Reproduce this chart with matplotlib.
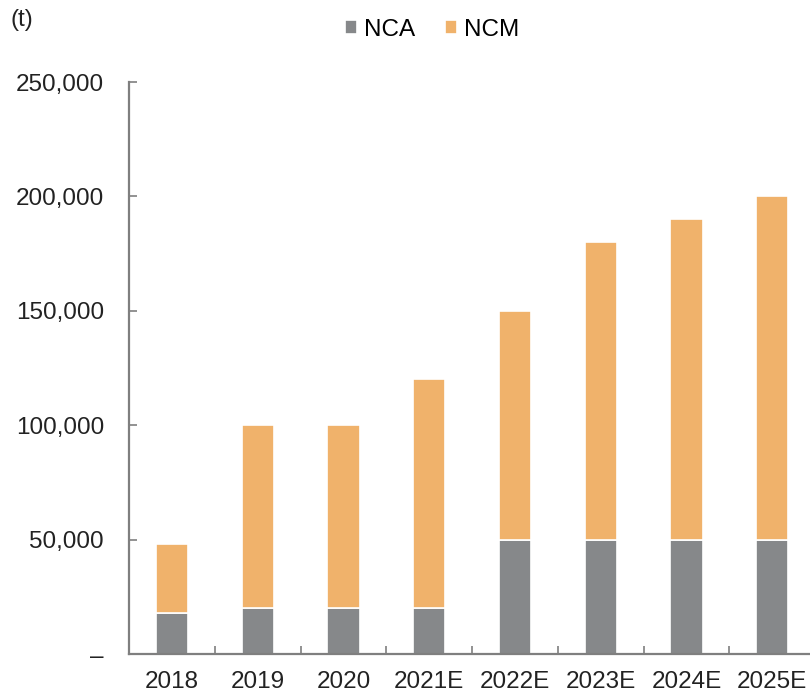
import matplotlib
matplotlib.use("Agg")
import matplotlib.pyplot as plt
from matplotlib.ticker import FuncFormatter, FixedLocator

plt.rcParams['font.family'] = ['Liberation Sans', 'DejaVu Sans']

years = ['2018', '2019', '2020', '2021E', '2022E', '2023E', '2024E', '2025E']
nca = [18000, 20000, 20000, 20000, 50000, 50000, 50000, 50000]
ncm = [30000, 80000, 80000, 100000, 100000, 130000, 140000, 150000]

gray = '#86888a'
orange = '#f0b26b'
axis_col = '#7f7f7f'
fs = 17.5

fig = plt.figure(figsize=(8.1, 6.92), dpi=100)
ax = fig.add_axes([129 / 810, 1 - 654 / 692, (810 - 129) / 810, (654 - 82) / 692])

x = list(range(len(years)))
w = 0.375
ax.bar(x, nca, width=w, color=gray, edgecolor='white', linewidth=1.2, label='NCA')
ax.bar(x, ncm, width=w, bottom=nca, color=orange, edgecolor='white', linewidth=1.2, label='NCM')

ax.set_xlim(-0.5, 7.44)
ax.set_ylim(0, 250000)

for s in ['top', 'right']:
    ax.spines[s].set_visible(False)
for s in ['left', 'bottom']:
    ax.spines[s].set_color(axis_col)
    ax.spines[s].set_linewidth(1.6)

ax.set_yticks(range(0, 250001, 50000))
ax.yaxis.set_major_formatter(FuncFormatter(lambda v, p: '–' if v == 0 else f'{int(v):,}'))
ax.tick_params(axis='y', direction='in', length=6, width=1.2, color=axis_col,
               labelsize=fs, pad=18, labelcolor='#222222')

ax.set_xticks(x)
ax.set_xticklabels(years)
ax.tick_params(axis='x', which='major', length=0, labelsize=fs, pad=12, labelcolor='#222222')
ax.xaxis.set_minor_locator(FixedLocator([i + 0.5 for i in range(len(years) - 1)]))
ax.tick_params(axis='x', which='minor', direction='in', length=6, width=1.2, color=axis_col)

fig.text(10 / 810, 1 - 20 / 692, '(t)', fontsize=fs, color='#222222', va='center', ha='left')

fig.legend(loc='center', bbox_to_anchor=(432 / 810, 1 - 30 / 692), ncol=2, frameon=False,
           fontsize=fs, handlelength=0.5, handleheight=0.5, handletextpad=0.3,
           columnspacing=1.2, borderpad=0)

fig.savefig('out.png', dpi=100)
